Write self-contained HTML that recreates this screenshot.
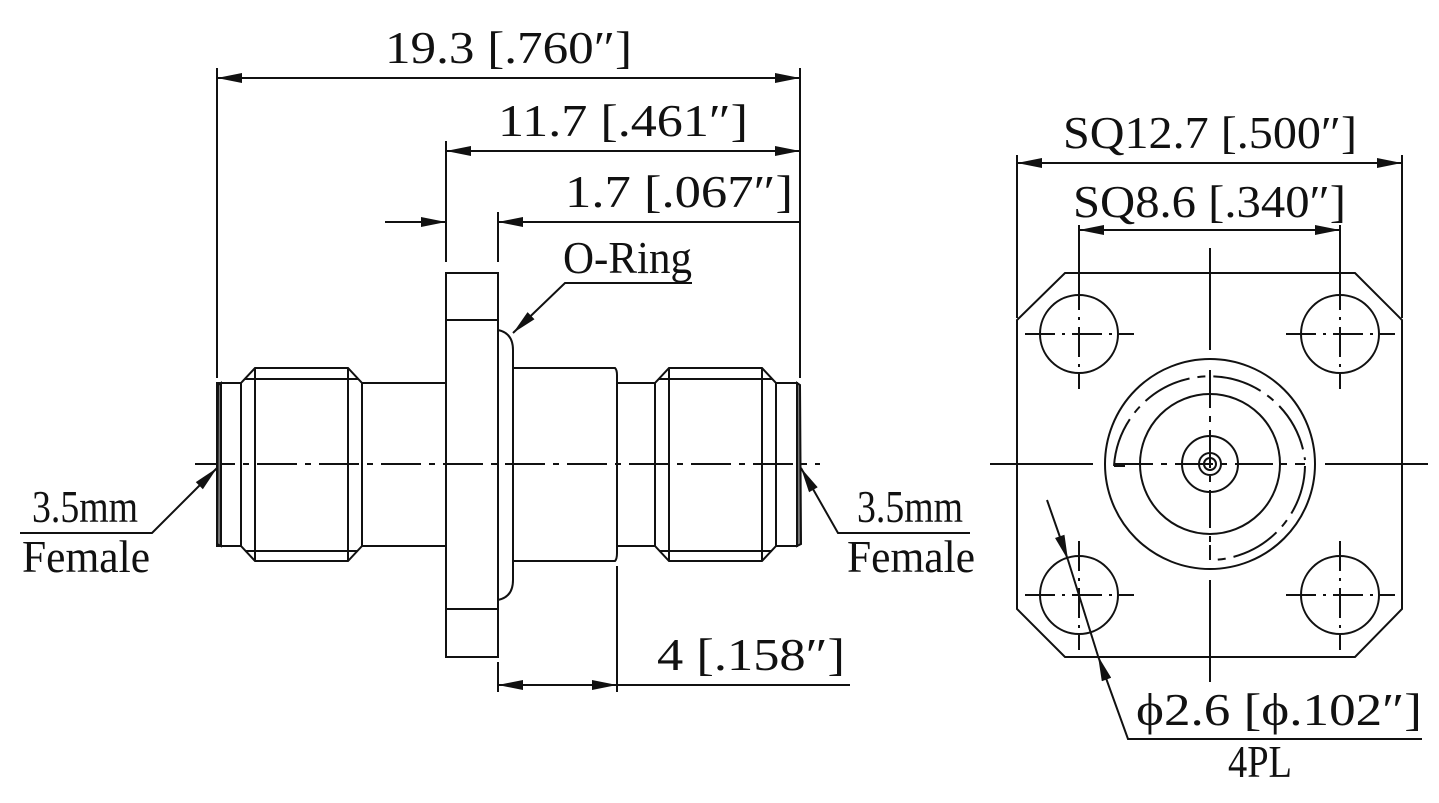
<!DOCTYPE html>
<html><head><meta charset="utf-8"><style>
html,body{margin:0;padding:0;background:#fff;}
svg{display:block;}
text{font-family:"Liberation Serif","Noto Serif CJK SC",serif;font-size:46px;fill:#111;}
</style></head><body>
<svg width="1439" height="803" viewBox="0 0 1439 803" xmlns="http://www.w3.org/2000/svg">
<defs>
<marker id="a" viewBox="0 0 20 8" refX="20" refY="4" markerWidth="28" markerHeight="10" markerUnits="userSpaceOnUse" orient="auto-start-reverse"><path d="M0,0 L20,4 L0,8 z" fill="#111"/></marker>
</defs>
<g stroke="#111" stroke-width="2" fill="none">
<line x1="195" y1="464" x2="820" y2="464" stroke-dasharray="40,8,6,8"/>
<path d="M221,383 L218,385 L217,544 L221,546 Z" fill="#777"/>
<rect x="217" y="383" width="24" height="163"/>
<path d="M241,383 L255,368 L348,368 L362,383 L362,546 L348,561 L255,561 L241,546 Z"/>
<line x1="255" y1="368" x2="255" y2="561"/>
<line x1="348" y1="368" x2="348" y2="561"/>
<line x1="245" y1="379" x2="358" y2="379"/>
<line x1="245" y1="551" x2="358" y2="551"/>
<rect x="362" y="383" width="84" height="163"/>
<rect x="446" y="273" width="52" height="384"/>
<line x1="446" y1="320" x2="498" y2="320"/>
<line x1="446" y1="609" x2="498" y2="609"/>
<path d="M498,330 Q513,333 513,350 L513,580 Q513,597 498,600"/>
<path d="M513,368 L615,368 Q617,370 617,375 L617,553 Q617,559 615,561 L513,561"/>
<rect x="617" y="383" width="38" height="163"/>
<path d="M655,383 L669,368 L762,368 L776,383 L776,546 L762,561 L669,561 L655,546 Z"/>
<line x1="669" y1="368" x2="669" y2="561"/>
<line x1="762" y1="368" x2="762" y2="561"/>
<line x1="659" y1="379" x2="772" y2="379"/>
<line x1="659" y1="551" x2="772" y2="551"/>
<rect x="776" y="383" width="21" height="163"/>
<path d="M797,383 L800,385 L801,544 L797,546 Z" fill="#777"/>

<line x1="217" y1="68" x2="217" y2="378"/>
<line x1="800" y1="68" x2="800" y2="378"/>
<line x1="217" y1="78" x2="800" y2="78" marker-start="url(#a)" marker-end="url(#a)"/>
<line x1="446" y1="141" x2="446" y2="262"/>
<line x1="446" y1="151" x2="800" y2="151" marker-start="url(#a)" marker-end="url(#a)"/>
<line x1="498" y1="212" x2="498" y2="262"/>
<line x1="385" y1="222" x2="446" y2="222" marker-end="url(#a)"/>
<line x1="800" y1="222" x2="498" y2="222" marker-end="url(#a)"/>
<polyline points="692,283 565,283 513,333" marker-end="url(#a)"/>
<line x1="498" y1="662" x2="498" y2="692"/>
<line x1="617" y1="566" x2="617" y2="692"/>
<line x1="498" y1="685" x2="617" y2="685" marker-start="url(#a)" marker-end="url(#a)"/>
<line x1="617" y1="685" x2="850" y2="685"/>
<polyline points="20,533 152,533 217,468" marker-end="url(#a)"/>
<polyline points="970,533 838,533 801,468" marker-end="url(#a)"/>

<path d="M1065,273 L1355,273 L1402,320 L1402,609 L1355,657 L1065,657 L1017,609 L1017,320 Z"/>
<line x1="990" y1="464" x2="1093" y2="464"/>
<line x1="1325" y1="464" x2="1428" y2="464"/>
<line x1="1210" y1="248" x2="1210" y2="350"/>
<line x1="1210" y1="580" x2="1210" y2="682"/>
<line x1="1115" y1="464" x2="1305" y2="464" stroke-dasharray="38,8,6,8"/>
<line x1="1210" y1="370" x2="1210" y2="558" stroke-dasharray="38,8,6,8"/>
<circle cx="1210" cy="464" r="105"/>
<path d="M1114,466 A96,96 0 0 1 1305,460" stroke-dasharray="50,8,8,8"/>
<path d="M1305,466 A96,96 0 0 1 1212,560" stroke-dasharray="50,8,8,8"/>
<line x1="1114" y1="466" x2="1125" y2="466"/>
<line x1="1210" y1="545" x2="1210" y2="560"/>
<circle cx="1210" cy="464" r="70"/>
<circle cx="1210" cy="464" r="28"/>
<circle cx="1210" cy="464" r="11"/>
<circle cx="1210" cy="464" r="6"/>
<g id="h">
<circle cx="1079" cy="334" r="39"/>
<line x1="1025" y1="334" x2="1134" y2="334" stroke-dasharray="30,7,3,7"/>
<line x1="1079" y1="280" x2="1079" y2="389" stroke-dasharray="30,7,3,7"/>
</g>
<use href="#h" x="261"/>
<use href="#h" y="261"/>
<use href="#h" x="261" y="261"/>
<line x1="1017" y1="155" x2="1017" y2="318"/>
<line x1="1402" y1="155" x2="1402" y2="318"/>
<line x1="1017" y1="163" x2="1402" y2="163" marker-start="url(#a)" marker-end="url(#a)"/>
<line x1="1079" y1="225" x2="1079" y2="300"/>
<line x1="1340" y1="225" x2="1340" y2="300"/>
<line x1="1079" y1="230" x2="1340" y2="230" marker-start="url(#a)" marker-end="url(#a)"/>
<line x1="1047" y1="500" x2="1068" y2="560" marker-end="url(#a)"/>
<polyline points="1422,739 1128,739 1098,656" marker-end="url(#a)"/>
<line x1="1068" y1="560" x2="1098" y2="656"/>
</g>
<text x="385" y="63" textLength="247" lengthAdjust="spacingAndGlyphs">19.3 [.760″]</text>
<text x="498" y="136" textLength="250" lengthAdjust="spacingAndGlyphs">11.7 [.461″]</text>
<text x="565" y="207" textLength="228" lengthAdjust="spacingAndGlyphs">1.7 [.067″]</text>
<text x="563" y="273" textLength="129" lengthAdjust="spacingAndGlyphs">O-Ring</text>
<text x="657" y="670" textLength="188" lengthAdjust="spacingAndGlyphs">4 [.158″]</text>
<text x="32" y="522" textLength="106" lengthAdjust="spacingAndGlyphs">3.5mm</text>
<text x="22" y="572" textLength="128" lengthAdjust="spacingAndGlyphs">Female</text>
<text x="857" y="522" textLength="106" lengthAdjust="spacingAndGlyphs">3.5mm</text>
<text x="847" y="572" textLength="128" lengthAdjust="spacingAndGlyphs">Female</text>
<text x="1063" y="148" textLength="294" lengthAdjust="spacingAndGlyphs">SQ12.7 [.500″]</text>
<text x="1073" y="217" textLength="273" lengthAdjust="spacingAndGlyphs">SQ8.6 [.340″]</text>
<text x="1136" y="725" textLength="286" lengthAdjust="spacingAndGlyphs">ϕ2.6 [ϕ.102″]</text>
<text x="1228" y="777" textLength="64" lengthAdjust="spacingAndGlyphs">4PL</text>
</svg>
</body></html>
